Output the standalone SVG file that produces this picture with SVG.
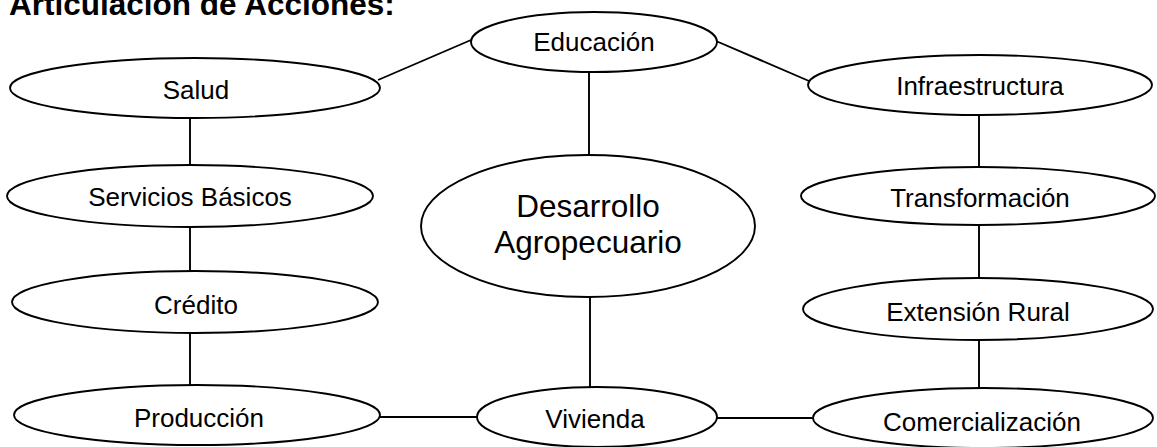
<svg xmlns="http://www.w3.org/2000/svg" width="1157" height="447" viewBox="0 0 1157 447">
<style>
.n ellipse{fill:#fff;stroke:#000;stroke-width:1.9}
.n text{font-family:"Liberation Sans",Arial,sans-serif;font-size:26px;fill:#000;text-anchor:middle}
.n text.big{font-size:31.5px}
.c line{stroke:#000;stroke-width:1.9}
.t{font-family:"Liberation Sans",Arial,sans-serif;font-size:31.5px;font-weight:bold;fill:#000}
</style>
<rect width="1157" height="447" fill="#fff"/>
<text class="t" x="9" y="15">Articulación de Acciones:</text>
<g class="c" id="connectors">
<line x1="378" y1="80" x2="471" y2="40"/>
<line x1="716" y1="41" x2="809" y2="81"/>
<line x1="190" y1="118" x2="190" y2="165"/>
<line x1="190" y1="227" x2="190" y2="272"/>
<line x1="190" y1="333" x2="190" y2="385"/>
<line x1="589" y1="72" x2="589" y2="155"/>
<line x1="590" y1="297" x2="590" y2="387"/>
<line x1="979" y1="115" x2="979" y2="167"/>
<line x1="979" y1="225" x2="979" y2="278"/>
<line x1="979" y1="340" x2="979" y2="388"/>
<line x1="380" y1="417" x2="477" y2="417"/>
<line x1="717" y1="418" x2="813" y2="418"/>
</g>
<g class="n" id="educacion"><ellipse cx="594" cy="42" rx="123" ry="30"/><text x="594" y="51">Educación</text></g>
<g class="n" id="salud"><ellipse cx="195" cy="88" rx="185" ry="30"/><text x="196" y="99">Salud</text></g>
<g class="n" id="infraestructura"><ellipse cx="980" cy="85" rx="172" ry="30"/><text x="980" y="95">Infraestructura</text></g>
<g class="n" id="servicios"><ellipse cx="190" cy="196" rx="183" ry="31"/><text x="190" y="206">Servicios Básicos</text></g>
<g class="n" id="desarrollo"><ellipse cx="588" cy="226" rx="167" ry="71"/><text class="big" x="588" y="217">Desarrollo</text><text class="big" x="588" y="253">Agropecuario</text></g>
<g class="n" id="transformacion"><ellipse cx="978" cy="196" rx="177" ry="29"/><text x="980" y="207">Transformación</text></g>
<g class="n" id="credito"><ellipse cx="195" cy="302" rx="183" ry="31"/><text x="196" y="314">Crédito</text></g>
<g class="n" id="extension"><ellipse cx="978" cy="309" rx="175" ry="31"/><text x="978" y="321">Extensión Rural</text></g>
<g class="n" id="produccion"><ellipse cx="197" cy="415" rx="183" ry="30"/><text x="199" y="427">Producción</text></g>
<g class="n" id="vivienda"><ellipse cx="597" cy="417" rx="120" ry="30"/><text x="595" y="428">Vivienda</text></g>
<g class="n" id="comercializacion"><ellipse cx="983" cy="418" rx="170" ry="30"/><text x="982" y="431">Comercialización</text></g>
</svg>
